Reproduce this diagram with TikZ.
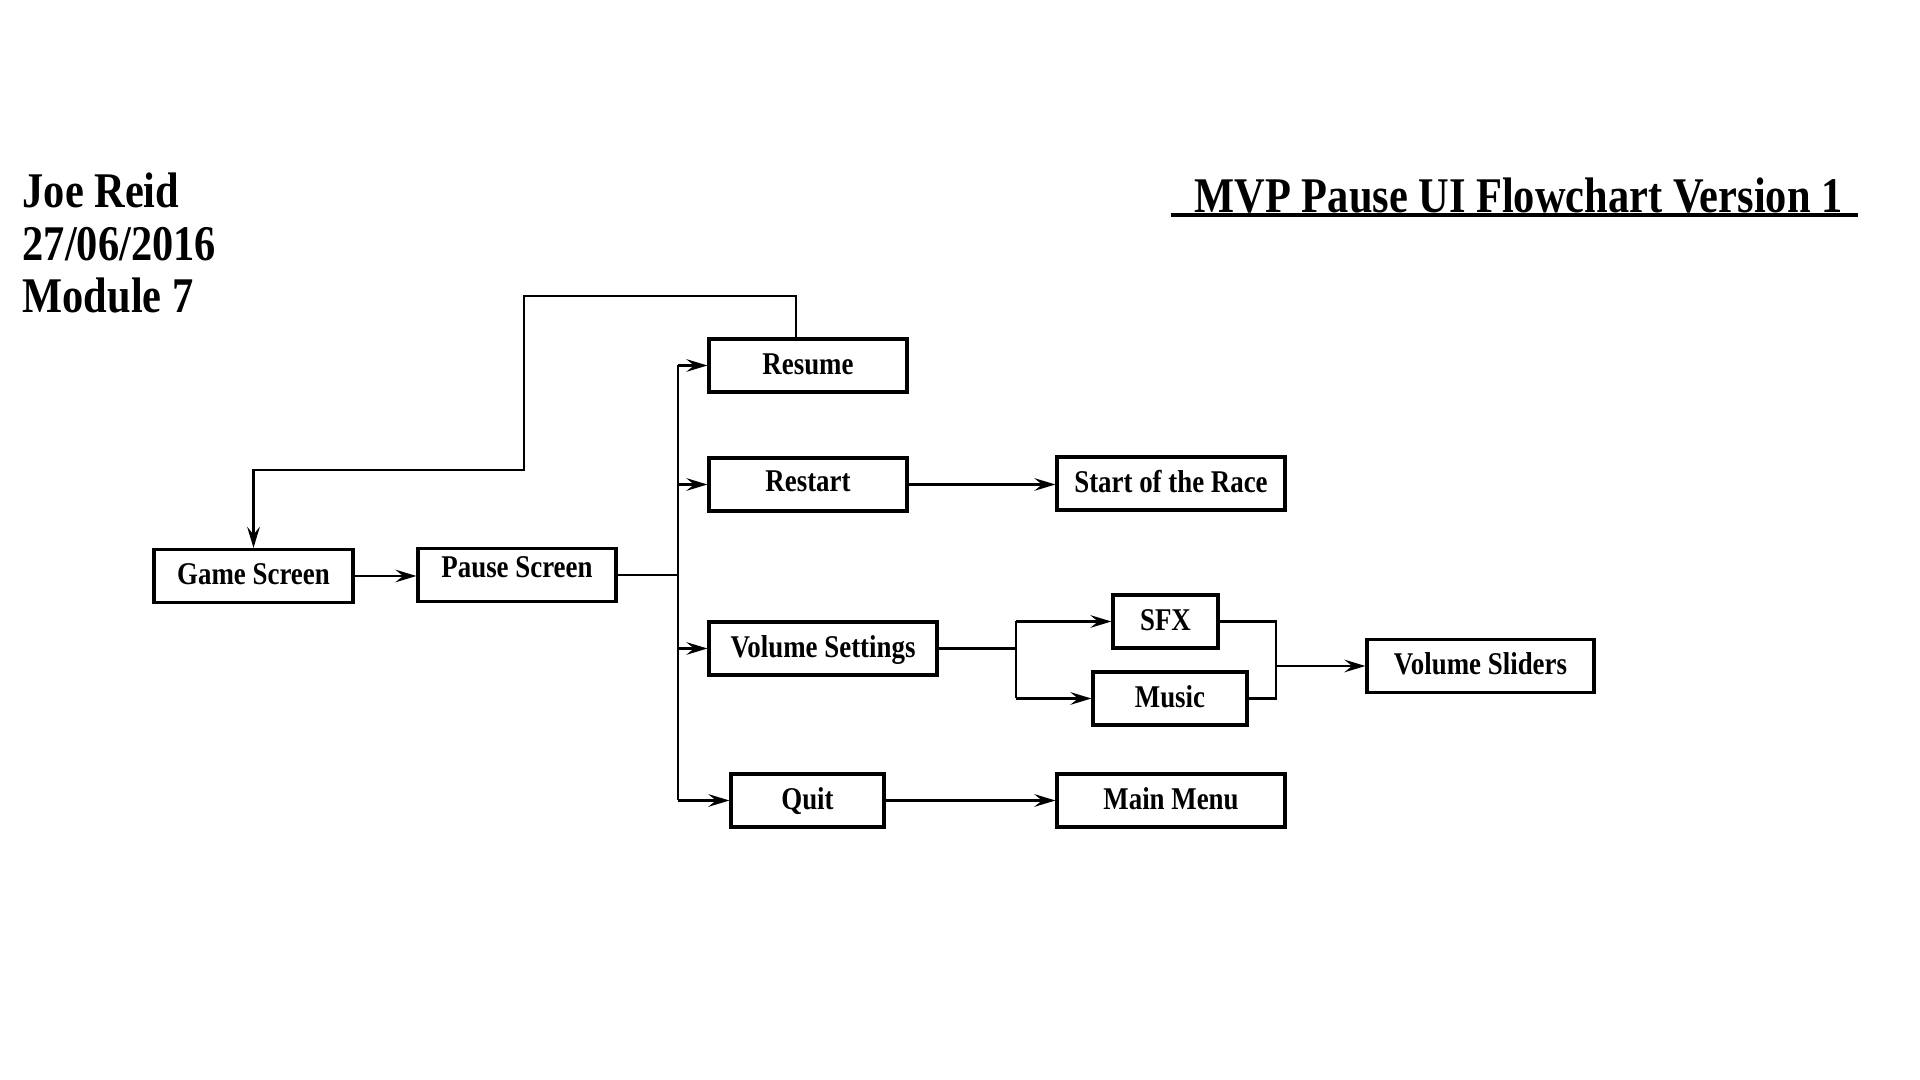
\documentclass[tikz,border=0pt]{standalone}
\usepackage{fontspec}
\setmainfont{Liberation Serif}[FakeStretch=0.85]
\usetikzlibrary{arrows.meta,positioning}

\begin{document}
\begin{tikzpicture}[
  box/.style={draw,line width=0.9pt,font=\fontsize{9}{11}\selectfont\bfseries,inner sep=0pt,
    minimum height=0.53cm,text height=0.24cm,text depth=0.06cm},
  link/.style={line width=0.6pt},
  flow/.style={link,-{Stealth[length=6pt,width=3.6pt,inset=2.2pt]}},
  heading/.style={font=\fontsize{14.2}{16}\selectfont\bfseries,anchor=base west,inner sep=0pt}
]
  \useasboundingbox (0,0) rectangle (19.2,10.8);
  % Author block
  \node[heading] (author) at (0.22,8.72) {Joe Reid};
  \node[heading] (date) at (0.22,8.19) {27/06/2016};
  \node[heading] (module) at (0.22,7.67) {Module 7};
  % Title
  \node[heading] (title) at (11.94,8.675) {MVP Pause UI Flowchart Version 1};
  \draw[line width=0.9pt] (11.71,8.65) -- (18.58,8.65);
  % Boxes
  \node[box,minimum width=1.99cm] (game) at (2.535,5.04) {Game Screen};
  \node[box,minimum width=1.98cm,text depth=0.19cm] (pause) at (5.17,5.05) {Pause Screen};
  \node[box,minimum width=1.98cm] (resume) at (8.08,7.145) {Resume};
  \node[box,minimum width=1.98cm,text depth=0.1cm] (restart) at (8.08,5.955) {Restart};
  \node[box,minimum width=2.28cm] (race) at (11.71,5.965) {Start of the Race};
  \node[box,minimum width=2.28cm] (volset) at (8.23,4.315) {Volume Settings};
  \node[box,minimum width=1.05cm] (sfx) at (11.655,4.585) {SFX};
  \node[box,minimum width=1.54cm] (music) at (11.70,3.815) {Music};
  \node[box,minimum width=2.27cm] (sliders) at (14.805,4.14) {Volume Sliders};
  \node[box,minimum width=1.53cm] (quit) at (8.075,2.795) {Quit};
  \node[box,minimum width=2.28cm] (menu) at (11.71,2.795) {Main Menu};
  % Junctions
  \coordinate (bus) at (6.78,5.05);
  \coordinate (vbus) at (10.16,4.30);
  \coordinate (mbus) at (12.76,4.18);
  \coordinate (loopTop) at (5.24,7.84);
  \coordinate (loopLow) at (5.24,6.10);
  % Pause menu branches
  \draw[flow] (game.east) -- (game.east -| pause.west);
  \draw[link] (pause.east) -- (pause.east -| bus);
  \draw[link] (bus |- resume) -- (bus |- quit);
  \foreach \n in {resume,restart,volset,quit}
    \draw[flow] (bus |- \n) -- (\n.west);
  \draw[flow] (restart.east) -- (restart.east -| race.west);
  \draw[flow] (quit) -- (menu);
  % Volume branches
  \draw[link] (volset.east) -- (volset.east -| vbus);
  \draw[link] (vbus |- sfx) -- (vbus |- music);
  \draw[flow] (vbus |- sfx) -- (sfx.west);
  \draw[flow] (vbus |- music) -- (music.west);
  \draw[link] (sfx.east) -- (sfx.east -| mbus) -- (mbus |- music.east) -- (music.east);
  \draw[flow] (mbus |- sliders) -- (sliders.west);
  % Back to the game
  \draw[flow] ([xshift=-0.12cm]resume.north) |- (loopTop) -- (loopLow) -| (game.north);
\end{tikzpicture}
\end{document}
